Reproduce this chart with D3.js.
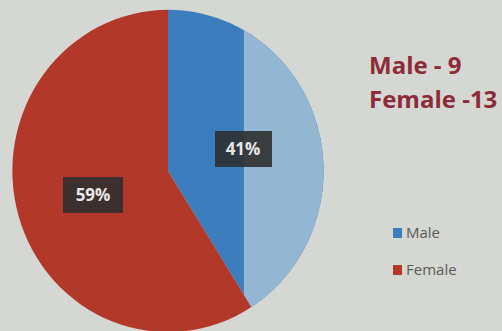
<!DOCTYPE html>
<html>
<head>
<meta charset="utf-8">
<script src="https://d3js.org/d3.v7.min.js"></script>
<style>
    body { margin: 0; background: #d5d7d3; }
    svg { display: block; }
    .pct { font: bold 17px "Open Sans", sans-serif; fill: #e6e6e6; }
    .counts text { font: bold 24px "Open Sans", sans-serif; fill: #8e2b38; }
    .legend text { font: 15px "Open Sans", sans-serif; fill: #5a5a5a; }
</style>
</head>
<body>
<svg class="target" width="502" height="331"></svg>
<script>
    const categories = ["Male", "Female"];
    const counts = [9, 13];
    const percents = [41, 59];
    const countLabels = ["Male - 9", "Female -13"];

    const colors = ["#3b7dbd", "#b2392a"];
    const lightBlue = "#93b6d2";

    let svg = d3.select(".target");

    let cx = 168, cy = 171, r = 158;

    let pie = d3.pie().sort(null).value(d => d);
    let arcs = pie(percents);
    let arc = d3.arc().innerRadius(0).outerRadius(r);

    let g = svg.append("g")
        .attr("transform", "translate(" + cx + "," + cy + ") scale(0.985,1.02)");

    g.selectAll("path.slice")
        .data(arcs)
        .enter().append("path")
        .attr("class", "slice")
        .attr("d", arc)
        .attr("fill", (d, i) => colors[i]);

    // washed-out right side of the male slice in the photo
    svg.append("clipPath").attr("id", "wash")
        .append("rect").attr("x", 77).attr("y", -r - 10).attr("width", r).attr("height", 2 * r + 20);
    g.append("path")
        .attr("d", arc(arcs[0]))
        .attr("fill", lightBlue)
        .attr("clip-path", "url(#wash)");

    // percent labels
    let labelPos = [[243, 149], [93, 195]];
    let boxes = svg.append("g").selectAll("g")
        .data(arcs)
        .enter().append("g")
        .attr("transform", (d, i) => "translate(" + labelPos[i][0] + "," + labelPos[i][1] + ")");
    boxes.append("rect")
        .attr("x", (d, i) => i ? -30 : -28)
        .attr("y", -18)
        .attr("width", (d, i) => i ? 60 : 57)
        .attr("height", 36)
        .attr("fill", "#2f3030")
        .attr("opacity", 0.9);
    boxes.append("text")
        .attr("class", "pct")
        .attr("text-anchor", "middle")
        .attr("dy", "0.35em")
        .text(d => d.data + "%");

    // counts text
    svg.append("g").attr("class", "counts")
        .selectAll("text")
        .data(countLabels)
        .enter().append("text")
        .attr("x", 369)
        .attr("y", (d, i) => 74 + i * 34)
        .text(d => d);

    // legend
    let legend = svg.append("g").attr("class", "legend")
        .selectAll("g")
        .data(categories)
        .enter().append("g")
        .attr("transform", (d, i) => "translate(393," + (233 + i * 37) + ")");
    legend.append("rect")
        .attr("x", 0).attr("y", -5)
        .attr("width", 9).attr("height", 10)
        .attr("fill", (d, i) => colors[i]);
    legend.append("text")
        .attr("x", 13)
        .attr("dy", "0.36em")
        .text(d => d);
</script>
</body>
</html>
